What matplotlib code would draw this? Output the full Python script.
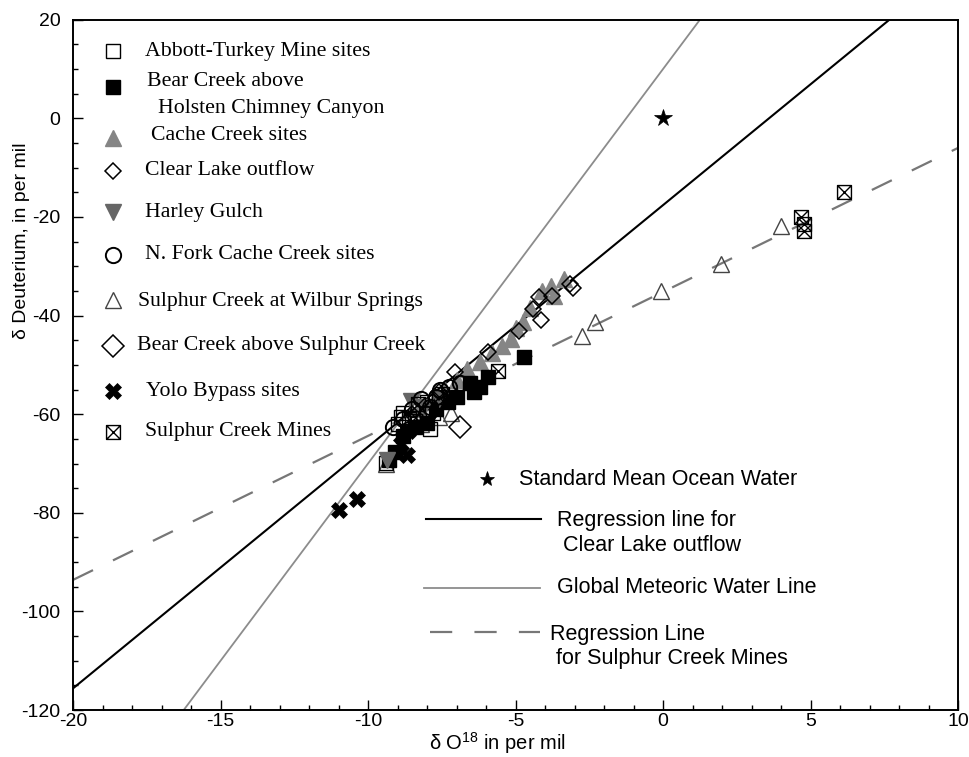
import numpy as np
import matplotlib
matplotlib.use("Agg")
import matplotlib.pyplot as plt
from matplotlib.path import Path
from matplotlib.lines import Line2D

SANS = ["Liberation Sans", "DejaVu Sans"]
SERIF = ["Liberation Serif", "DejaVu Serif"]
plt.rcParams["font.family"] = SANS
plt.rcParams["axes.unicode_minus"] = False
plt.rcParams["mathtext.fontset"] = "custom"
plt.rcParams["mathtext.rm"] = "Liberation Sans"

# --- data (delta O18, delta D, per mil) ---
abbott_x = [-9.4, -9.0, -8.8, -8.6, -8.3, -8.0, -7.9, -7.8, -7.5, -8.9]
abbott_y = [-69.8, -62.0, -59.7, -61.0, -58.5, -57.5, -63.0, -59.7, -56.0, -60.5]

holsten_x = [-4.73, -5.92, -6.2, -6.42, -6.53, -6.97, -7.3, -7.7, -8.0, -8.4, -8.8, -9.07, -9.3]
holsten_y = [-48.5, -52.5, -54.4, -55.6, -53.6, -56.6, -57.5, -59.0, -61.7, -62.5, -64.5, -67.6, -69.3]

cache_x = [-3.37, -3.8, -3.7, -4.1, -4.5, -4.76, -5.0, -5.17, -5.45, -5.8, -6.2, -6.63, -7.0, -7.4, -7.8, -8.3]
cache_y = [-32.6, -34.0, -36.0, -35.0, -38.5, -41.4, -42.5, -44.8, -46.2, -47.5, -49.5, -50.9, -53.0, -55.0, -57.5, -59.0]

clear_x = [-3.14, -3.05, -3.75, -4.2, -4.42, -4.15, -4.9, -5.95, -7.04, -7.6, -8.5]
clear_y = [-33.6, -34.5, -36.1, -36.3, -38.7, -40.8, -43.2, -47.3, -51.5, -55.5, -60.0]

harley_x = [-8.56, -9.35, -8.1, -7.6]
harley_y = [-57.4, -69.3, -58.5, -57.0]

nfork_x = [-9.14, -8.8, -8.5, -8.2, -7.9, -7.55, -7.27, -6.87, -7.7, -8.0, -8.6]
nfork_y = [-62.5, -61.0, -59.0, -57.0, -58.5, -55.0, -54.4, -53.6, -56.5, -60.0, -63.0]

wilbur_x = [4.0, 1.95, -0.08, -2.3, -2.76, -7.2, -9.38, -8.2, -7.6]
wilbur_y = [-21.9, -29.6, -35.0, -41.4, -44.2, -59.7, -70.0, -62.0, -60.5]

bearsul_x = [-6.87, -7.9, -8.6]
bearsul_y = [-62.5, -59.5, -61.5]

yolo_x = [-11.0, -10.37, -8.67, -8.63, -8.9]
yolo_y = [-79.4, -77.3, -68.2, -63.5, -66.0]

mines_x = [6.13, 4.67, 4.78, 4.78, -5.58, -8.3, -7.6]
mines_y = [-15.0, -20.0, -21.5, -22.9, -51.3, -58.0, -56.5]

smow_x = [0.0]
smow_y = [0.0]

# lines: (slope, intercept)
clear_fit = (4.9, -17.6)
gmwl = (8.0, 10.0)
mines_fit = (2.92, -35.2)
line_x = np.array([-20.0, 10.0])

# boxed X marker
boxx = Path([(-1, -1), (1, -1), (1, 1), (-1, 1), (-1, -1),
             (-1, -1), (1, 1), (-1, 1), (1, -1)],
            [Path.MOVETO, Path.LINETO, Path.LINETO, Path.LINETO, Path.CLOSEPOLY,
             Path.MOVETO, Path.LINETO, Path.MOVETO, Path.LINETO])

styles = {
    "abbott": dict(marker="s", ms=10, mfc="none", mec="black", mew=1.0),
    "holsten": dict(marker="s", ms=10, mfc="black", mec="black", mew=1.0),
    "cache": dict(marker="^", ms=11, mfc="#858585", mec="#858585", mew=1.0),
    "clear": dict(marker="D", ms=8, mfc="none", mec="black", mew=1.1),
    "harley": dict(marker="v", ms=11, mfc="#666666", mec="#666666", mew=1.0),
    "nfork": dict(marker="o", ms=11, mfc="none", mec="black", mew=1.4),
    "wilbur": dict(marker="^", ms=12, mfc="none", mec="#444444", mew=1.0),
    "bearsul": dict(marker="D", ms=11, mfc="none", mec="black", mew=1.1),
    "yolo": dict(marker="X", ms=11, mfc="black", mec="black", mew=0.5),
    "mines": dict(marker=boxx, ms=10, mfc="none", mec="black", mew=1.0),
    "smow": dict(marker="*", ms=13, mfc="black", mec="black", mew=0.5),
}

fig = plt.figure(figsize=(9.7, 7.57), dpi=100)
ax = fig.add_axes([0.0753, 0.062, 0.9124, 0.912])

ax.plot(line_x, gmwl[0] * line_x + gmwl[1], color="#8c8c8c", lw=1.3, zorder=1)
ax.plot(line_x, clear_fit[0] * line_x + clear_fit[1], color="black", lw=1.5, zorder=1)
ax.plot(line_x, mines_fit[0] * line_x + mines_fit[1], color="#777777", lw=1.6,
        dashes=(10, 10), zorder=1)

series = [
    ("wilbur", wilbur_x, wilbur_y),
    ("cache", cache_x, cache_y),
    ("holsten", holsten_x, holsten_y),
    ("abbott", abbott_x, abbott_y),
    ("harley", harley_x, harley_y),
    ("nfork", nfork_x, nfork_y),
    ("clear", clear_x, clear_y),
    ("bearsul", bearsul_x, bearsul_y),
    ("mines", mines_x, mines_y),
    ("yolo", yolo_x, yolo_y),
    ("smow", smow_x, smow_y),
]
for key, xs, ys in series:
    ax.plot(xs, ys, ls="none", zorder=3, **styles[key])

ax.set_xlim(-20, 10)
ax.set_ylim(-120, 20)
ax.set_xticks(np.arange(-20, 11, 5))
ax.set_xticks(np.arange(-20, 11, 1), minor=True)
ax.set_yticks(np.arange(-120, 21, 20))
ax.set_yticks(np.arange(-120, 21, 5), minor=True)
ax.tick_params(which="both", direction="in", top=False, right=False,
               labelsize=14, width=1.0)
ax.tick_params(which="major", length=7)
ax.tick_params(which="minor", length=3.5)
ax.tick_params(axis="y", which="major", pad=9)
ax.tick_params(axis="x", which="major", pad=2)
for sp in ax.spines.values():
    sp.set_linewidth(1.4)

ax.set_xlabel(r"δ O$^{18}$ in per mil", fontsize=14.5)
ax.xaxis.set_label_coords(0.48, -0.058, transform=ax.transAxes)
ax.xaxis.label.set_va("baseline")
ax.set_ylabel("δ Deuterium, in per mil", fontsize=14)
ax.yaxis.set_label_coords(-0.049, 0.68)

# upper-left legend
ul = [
    ("abbott", "Abbott-Turkey Mine sites", 0.954, 0.954, 0.081),
    ("holsten", "Bear Creek above", 0.903, 0.910, 0.084),
    (None, "Holsten Chimney Canyon", None, 0.871, 0.096),
    ("cache", "Cache Creek sites", 0.829, 0.832, 0.088),
    ("clear", "Clear Lake outflow", 0.781, 0.781, 0.081),
    ("harley", "Harley Gulch", 0.721, 0.721, 0.081),
    ("nfork", "N. Fork Cache Creek sites", 0.659, 0.660, 0.081),
    ("wilbur", "Sulphur Creek at Wilbur Springs", 0.594, 0.592, 0.073),
    ("bearsul", "Bear Creek above Sulphur Creek", 0.528, 0.528, 0.072),
    ("yolo", "Yolo Bypass sites", 0.462, 0.462, 0.082),
    ("mines", "Sulphur Creek Mines", 0.403, 0.403, 0.081),
]
for key, label, my, ty, tx in ul:
    if key is not None:
        st = dict(styles[key])
        if key == "wilbur":
            st["ms"] = 11
        ax.plot([0.045], [my], transform=ax.transAxes, ls="none",
                clip_on=False, zorder=4, **st)
    ax.text(tx, ty, label, transform=ax.transAxes, fontsize=15.7,
            family=SERIF, ha="left", va="center")

# lower-right legend
LFS = 15.5
ax.plot([0.468], [0.334], transform=ax.transAxes, ls="none",
        **dict(styles["smow"], ms=11))
ax.text(0.504, 0.334, "Standard Mean Ocean Water", transform=ax.transAxes,
        fontsize=LFS, va="center")

ax.add_line(Line2D([0.399, 0.529], [0.277, 0.277], transform=ax.transAxes,
                   color="black", lw=1.5))
ax.text(0.547, 0.257, "Regression line for\n Clear Lake outflow", transform=ax.transAxes,
        fontsize=LFS, va="center", linespacing=1.25)

ax.add_line(Line2D([0.397, 0.528], [0.177, 0.177], transform=ax.transAxes,
                   color="#8c8c8c", lw=1.3))
ax.text(0.547, 0.177, "Global Meteoric Water Line", transform=ax.transAxes,
        fontsize=LFS, va="center")

ax.add_line(Line2D([0.403, 0.528], [0.113, 0.113], transform=ax.transAxes,
                   color="#777777", lw=1.6, dashes=(10, 10)))
ax.text(0.539, 0.092, "Regression Line\n for Sulphur Creek Mines", transform=ax.transAxes,
        fontsize=LFS, va="center", linespacing=1.2)

fig.savefig("out.png", dpi=100)
